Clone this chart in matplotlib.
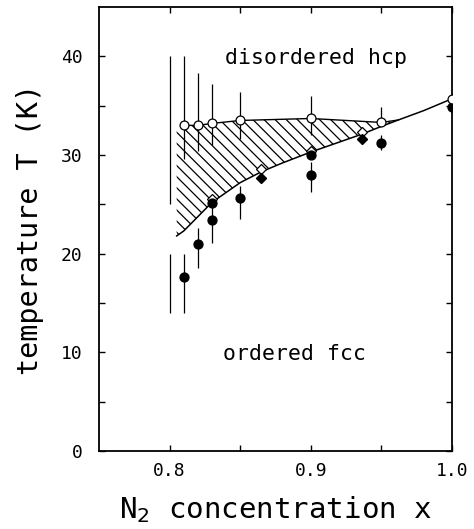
import matplotlib
matplotlib.use("Agg")
import matplotlib.pyplot as plt
import numpy as np

plt.rcParams['font.family'] = ['DejaVu Sans Mono']
plt.rcParams['hatch.linewidth'] = 0.9

# open circles: transition to disordered hcp
x_open = [0.81, 0.82, 0.83, 0.85, 0.90, 0.95, 1.00]
T_open = [33.0, 33.0, 33.2, 33.5, 33.7, 33.3, 35.7]
T_open_lo = [29.6, 30.4, 31.0, 31.6, 32.0, 33.3, 35.7]
T_open_hi = [40.0, 38.3, 37.2, 36.4, 36.0, 34.9, 35.7]

# filled circles: ordered fcc
x_fill = [0.81, 0.82, 0.83, 0.83, 0.85, 0.90, 0.90, 0.95, 1.00]
T_fill = [17.6, 21.0, 25.1, 23.4, 25.6, 30.0, 28.0, 31.2, 34.9]
T_fill_lo = [14.0, 18.5, 25.1, 21.1, 23.5, 30.0, 26.3, 30.5, 34.9]
T_fill_hi = [20.0, 22.6, 25.1, 25.6, 26.9, 30.0, 29.3, 32.0, 34.9]

# bare ranges at x = 0.80
x_range = [0.80, 0.80]
T_range_lo = [25.0, 14.0]
T_range_hi = [40.0, 20.0]

# diamonds
x_dia_open = [0.83, 0.865, 0.90, 0.936]
T_dia_open = [25.5, 28.6, 30.4, 32.3]
x_dia_fill = [0.865, 0.936]
T_dia_fill = [27.7, 31.6]

# coexistence region boundaries
x_up = [0.805, 0.81, 0.82, 0.83, 0.85, 0.90, 0.95, 0.962]
T_up = [33.0, 33.0, 33.0, 33.2, 33.5, 33.7, 33.3, 33.55]
x_lo = [0.805, 0.81, 0.83, 0.85, 0.865, 0.88, 0.90, 0.92, 0.936, 0.95, 0.962, 0.98, 1.00]
T_lo = [21.8, 22.3, 25.2, 27.2, 28.3, 29.2, 30.3, 31.3, 32.1, 32.9, 33.55, 34.5, 35.7]

fig = plt.figure(figsize=(4.74, 5.29), dpi=100)
ax = fig.add_axes([0.2089, 0.1474, 0.7447, 0.8394])

# hatched region
x_lo_a = np.array(x_lo)
T_lo_a = np.array(T_lo)
keep = x_lo_a <= x_up[-1]
poly_x = np.concatenate([x_up, x_lo_a[keep][::-1]])
poly_T = np.concatenate([T_up, T_lo_a[keep][::-1]])
ax.fill(poly_x, poly_T, facecolor='none', edgecolor='k', linewidth=0, hatch='\\\\\\')
ax.plot(x_up[1:], T_up[1:], color='k', linewidth=1.0)
ax.plot(x_lo, T_lo, color='k', linewidth=1.1)

ax.vlines(x_range, T_range_lo, T_range_hi, color='k', linewidth=0.9)
ax.vlines(x_open, T_open_lo, T_open_hi, color='k', linewidth=0.9)
ax.vlines(x_fill, T_fill_lo, T_fill_hi, color='k', linewidth=0.9)

ax.plot(x_dia_open, T_dia_open, 'D', ms=5.5, mfc='white', mec='k', mew=0.9, zorder=4)
ax.plot(x_dia_fill, T_dia_fill, 'D', ms=5.5, mfc='k', mec='k', zorder=5)
ax.plot(x_fill, T_fill, 'o', ms=6.4, mfc='k', mec='k', zorder=5)
ax.plot(x_open, T_open, 'o', ms=6.4, mfc='white', mec='k', mew=0.9, zorder=6)

ax.text(0.9037, 39.2, 'disordered hcp', ha='center', va='baseline', fontsize=15.5)
ax.text(0.8885, 9.2, 'ordered fcc', ha='center', va='baseline', fontsize=15.5)

ax.set_xlim(0.75, 1.0)
ax.set_ylim(0, 45)
ax.set_xticks([0.8, 0.9, 1.0])
ax.set_xticklabels(['0.8', '0.9', '1.0'])
ax.set_xticks([0.85, 0.95], minor=True)
ax.set_yticks([0, 10, 20, 30, 40])
ax.set_yticks([5, 15, 25, 35], minor=True)
ax.tick_params(which='both', direction='in', length=4, width=1.0,
               top=True, right=True, labelsize=13)
ax.tick_params(axis='y', pad=12)
ax.tick_params(axis='x', pad=8)
for s in ax.spines.values():
    s.set_linewidth(1.3)

ax.set_xlabel('N$_2$ concentration x', fontsize=21, labelpad=10)
ax.set_ylabel('temperature T (K)', fontsize=20.5, labelpad=12)

fig.savefig('out.png', dpi=100)
